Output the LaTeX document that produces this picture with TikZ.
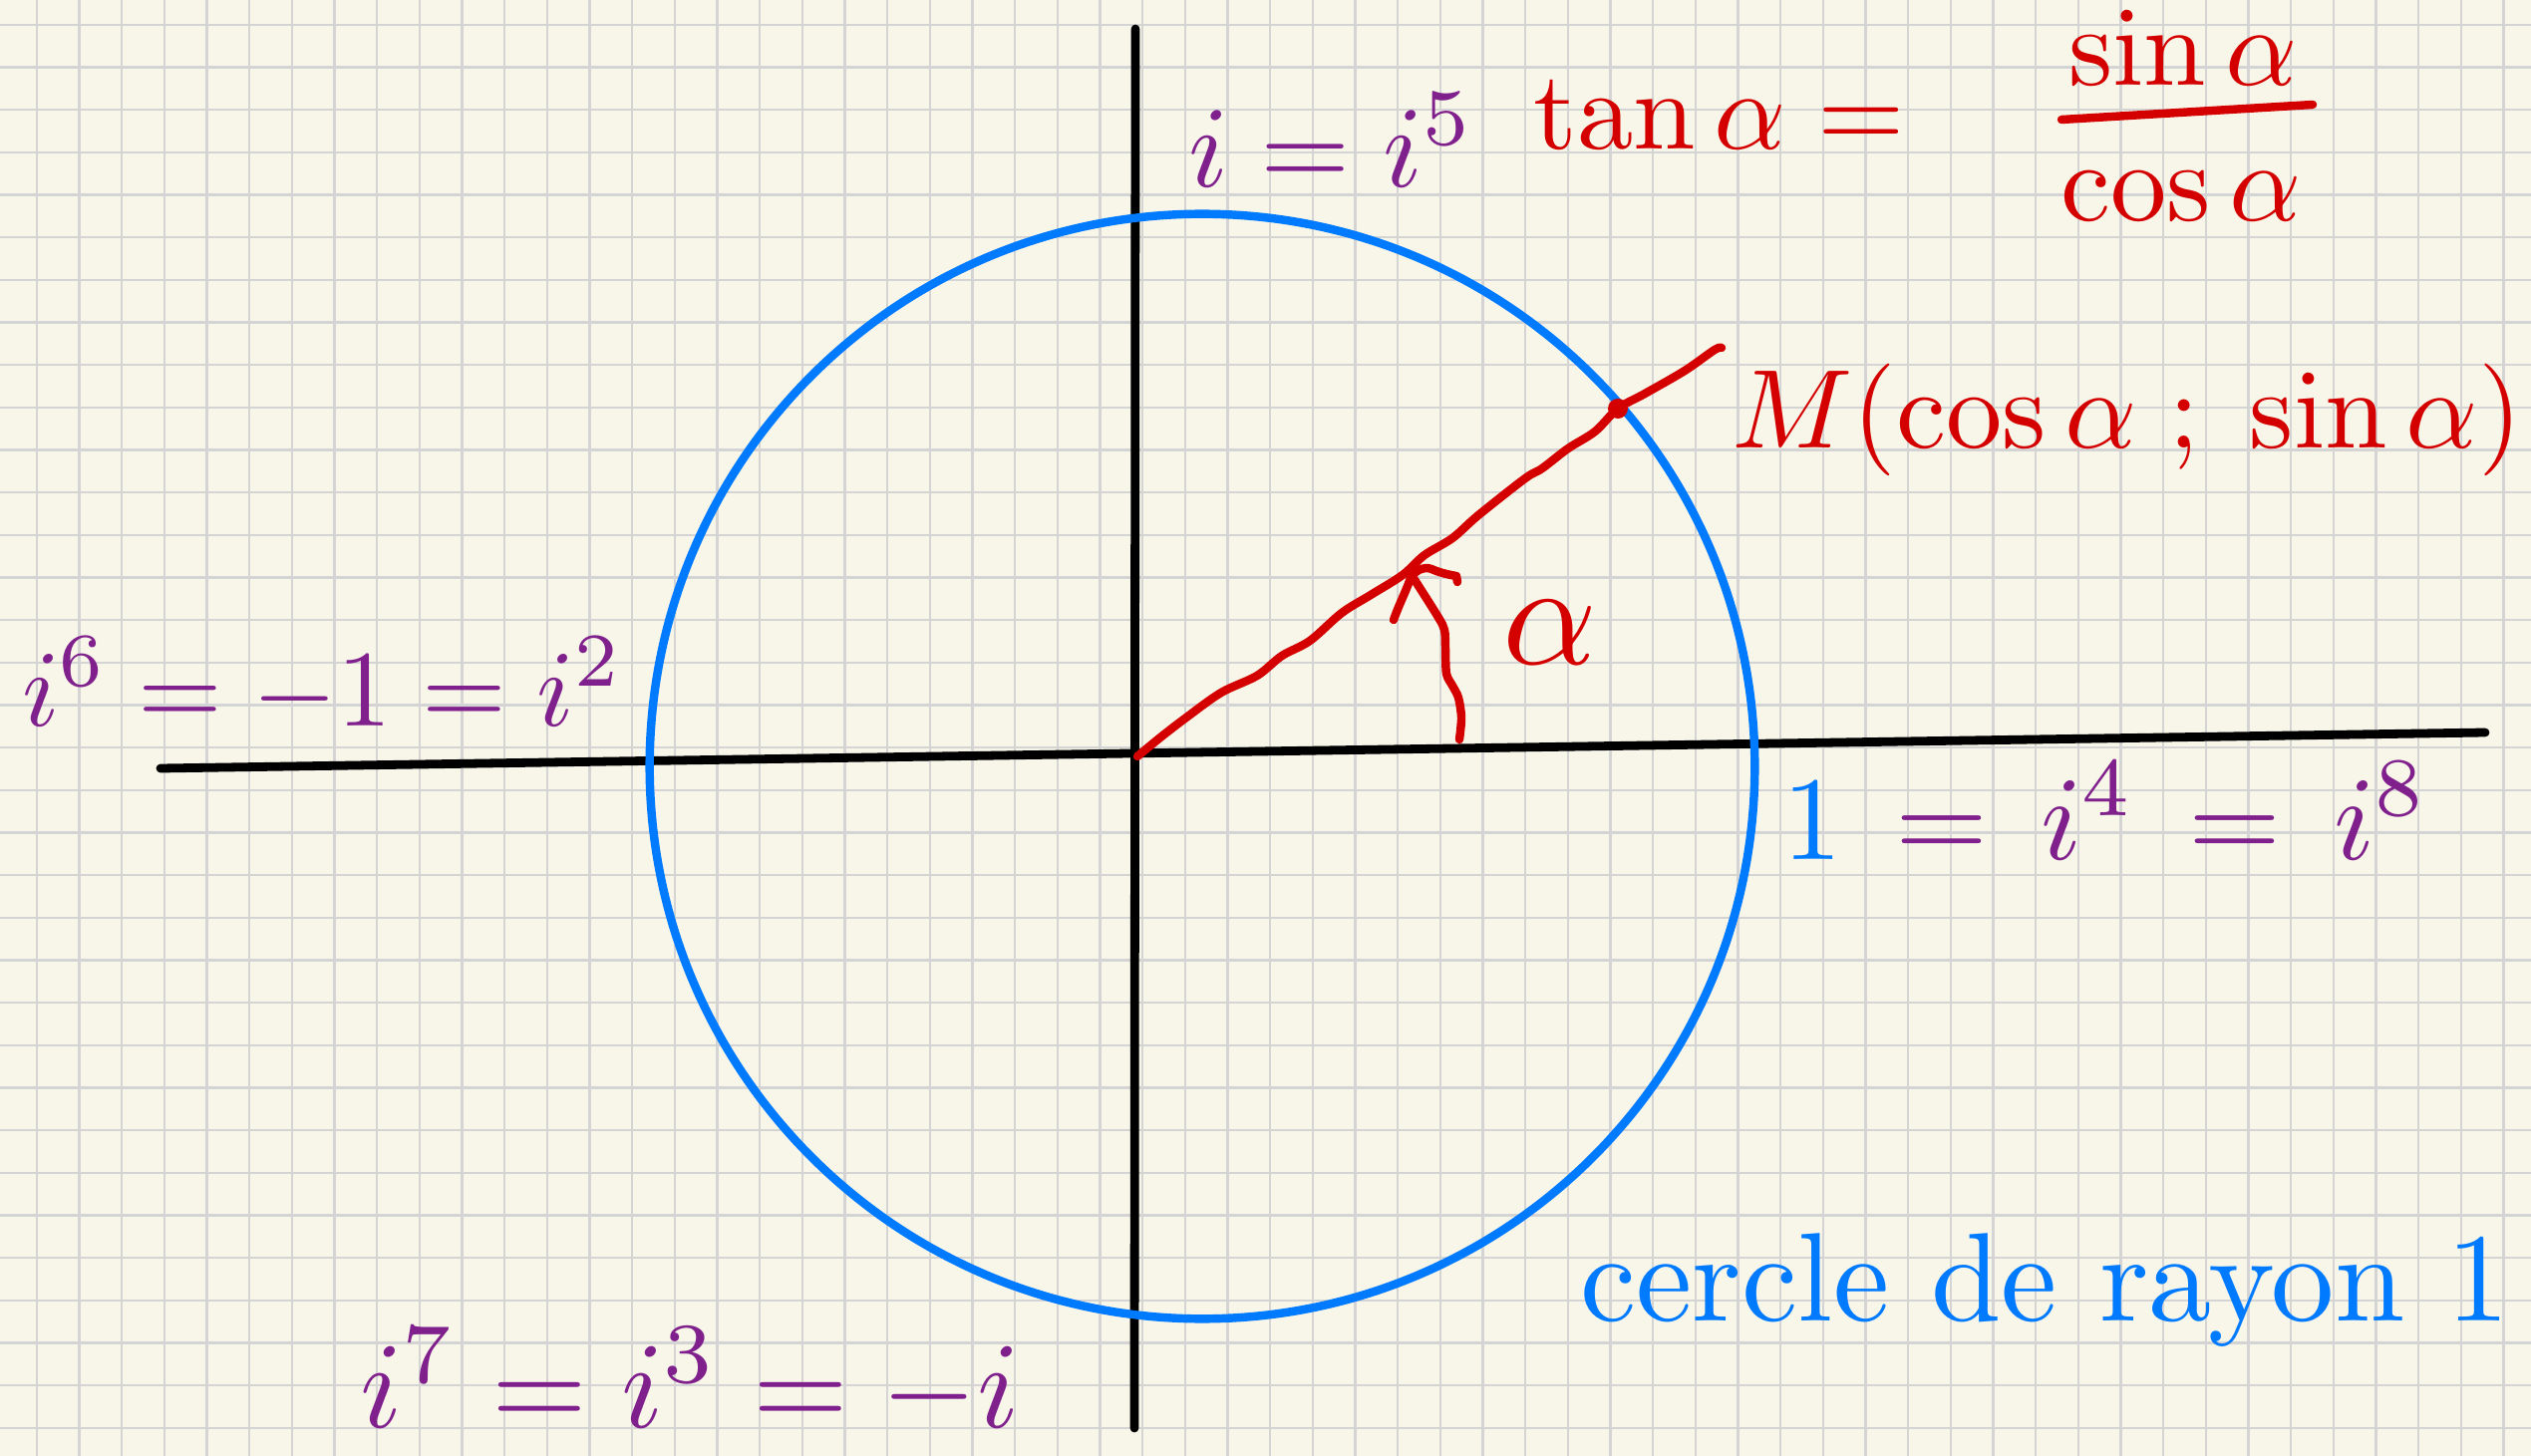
\documentclass[tikz,border=0pt]{standalone}
\usepackage{amsmath}
\definecolor{paper}{RGB}{248,246,233}
\definecolor{gridc}{RGB}{212,212,212}
\definecolor{hpurple}{RGB}{128,32,140}
\definecolor{hred}{RGB}{212,0,0}
\definecolor{hblue}{RGB}{0,122,255}
\tikzset{
  gridline/.style={gridc, line width=0.65pt},
  axisline/.style={black, line width=2.5pt, line cap=round},
  circline/.style={hblue, line width=2.4pt},
  redpen/.style={hred, line width=2.4pt, line cap=round, line join=round},
  pur/.style={text=hpurple, inner sep=0pt},
  rd/.style={text=hred, inner sep=0pt},
  bl/.style={text=hblue, inner sep=0pt},
}
\begin{document}
\begin{tikzpicture}[x=0.01cm,y=-0.01cm]
\useasboundingbox (0,0) rectangle (2539,1461);
\fill[paper] (0,0) rectangle (2539,1461);
% graph paper
\foreach \k in {0,...,58} \draw[gridline] ({36.7+42.67*\k},0) -- ({36.7+42.67*\k},1461);
\foreach \k in {0,...,33} \draw[gridline] (0,{24.7+42.67*\k}) -- (2539,{24.7+42.67*\k});
% axes
\coordinate (XL) at (161,771);
\coordinate (XR) at (2493,735);
\coordinate (YT) at (1139,29);
\coordinate (YB) at (1138,1433);
\coordinate (O) at (1141,759);
\draw[axisline] (XL) -- (XR);
\draw[axisline] (YT) -- (YB);
% unit circle
\coordinate (C) at (1206,769);
\draw[circline] (C) circle[radius=5.54cm];
% ray to M
\coordinate (M) at (1623,410);
\coordinate (Mend) at (1727,349);
\draw[redpen] plot[smooth, tension=0.55] coordinates {(O) (1164,740) (1190,720) (1225,695) (1261,678) (1286,658) (1314,643) (1346,615) (1375,597) (1407,577) (1429,557) (1457,540) (1483,517) (1530,480) (1547,470) (1573,450) (1600,433) (M) (1650,395) (1690,372) (1720,351) (Mend)};
\fill[hred] (M) circle[radius=0.1cm];
% angle arrow
\coordinate (A0) at (1464,742);
\coordinate (T) at (1416,577);
\draw[redpen] plot[smooth, tension=0.5] coordinates {(A0) (1466,720) (1463,700) (1457,688) (1451,676) (1450,650) (1449,632) (1442,618) (T)};
\draw[redpen] (T) .. controls (1412,590) and (1404,605) .. (1398,622);
\draw[redpen] (T) .. controls (1423,572) and (1428,568) .. (1436,571) .. controls (1445,575) and (1455,577) .. (1461,578) -- (1462,584);
\node[rd, scale=4.2] (alpha) at (1555,635) {$\alpha$};
% labels
\node[pur, anchor=base west, scale=3.3] (ifive) at (1190,188) {$i = i^{5}$};
\node[rd, anchor=base west, scale=3.2] (tan) at (1536,150) {$\tan\alpha =$};
\node[rd, anchor=base, scale=3.2] (num) at (2190,86) {$\sin\alpha$};
\node[rd, anchor=base, scale=3.2] (den) at (2188,222) {$\cos\alpha$};
\coordinate (barL) at (2068,120);
\coordinate (barR) at (2320,105);
\draw[hred, line width=2.4pt, line cap=round] (barL) -- (barR);
\node[rd, anchor=base west, scale=3.2] (Mlab) at (1735,450) {$M(\cos\alpha\;;\;\sin\alpha)$};
\node[pur, anchor=base west, scale=3.1] (isix) at (20,728) {$i^{6} = -1 = i^{2}$};
\node[pur, anchor=base west, scale=3.4] (ifour) at (1786,862) {$\textcolor{hblue}{1} \,=\, i^{4} \,=\, i^{8}$};
\node[pur, anchor=base west, scale=3.5] (iseven) at (359,1432) {$i^{7} = i^{3} = -i$};
\node[bl, anchor=base west, scale=3.6] (cercle) at (1583,1325) {cercle de rayon 1};
\end{tikzpicture}
\end{document}
